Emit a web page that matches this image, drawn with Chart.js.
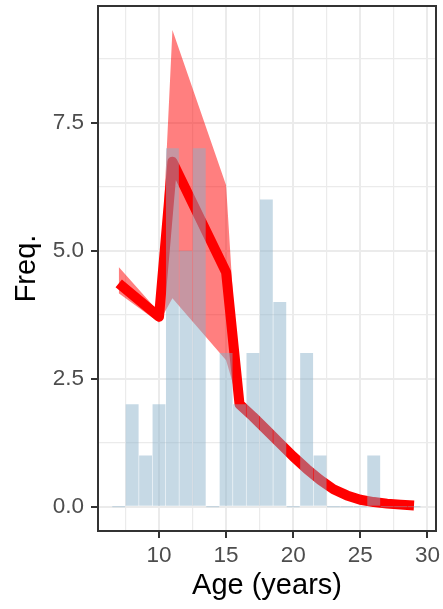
<!DOCTYPE html>
<html>
<head>
<meta charset="utf-8">
<script src="https://cdn.jsdelivr.net/npm/chart.js@4/dist/chart.umd.min.js"></script>
<style>
  html, body { margin: 0; padding: 0; background: #ffffff; }
  #wrap { width: 443px; height: 609px; }
</style>
</head>
<body>
<div id="wrap"><canvas id="chart" width="443" height="609"></canvas></div>
<script>
// Histogram of ages (1-year bins, centred on whole years)
const binAges   = [7, 8, 9, 10, 11, 12, 13, 14, 15, 16, 17, 18, 19, 20, 21, 22, 23, 24, 25, 26, 27, 28, 29];
const binCounts = [0, 2, 1, 2, 7, 5, 7, 0, 3, 2, 3, 6, 4, 0, 3, 1, 0, 0, 0, 1, 0, 0, 0];

// Fitted frequency curve
const fitAges = [7, 10, 11, 15, 16, 17, 18, 19, 20, 21, 22, 23, 24, 25, 26, 27, 28, 29];
const fitFreq = [4.36, 3.71, 6.74, 4.58, 2.0, 1.76, 1.50, 1.24, 0.98, 0.74, 0.525, 0.34, 0.22, 0.136, 0.09, 0.06, 0.04, 0.025];

// Confidence band around the fitted curve
const bandAges  = [7, 10, 11, 15, 16];
const bandUpper = [4.68, 3.8, 9.31, 6.28, 2.05];
const bandLower = [4.17, 3.6, 4.07, 2.86, 1.95];

// Axis ticks (major ones carry labels, minor ones only a grid line)
const xTicks = [7.5, 10, 12.5, 15, 17.5, 20, 22.5, 25, 27.5, 30];
const xMajor = [10, 15, 20, 25, 30];
const yTicks = [0, 1.25, 2.5, 3.75, 5, 6.25, 7.5, 8.75];
const yMajor = [0, 2.5, 5, 7.5];

const pts = (xs, ys) => xs.map((x, i) => ({ x: x, y: ys[i] }));
const isMajor = (list, v) => list.some(m => Math.abs(m - v) < 1e-6);
const tickVal = c => (c && c.tick) ? c.tick.value : NaN;

const FONT = "'Liberation Sans', Arial, Helvetica, sans-serif";

// Panel border drawn over the data, like a framed plot panel
const panelBorder = {
  id: 'panelBorder',
  afterDatasetsDraw(chart) {
    const { ctx, chartArea: a } = chart;
    ctx.save();
    ctx.strokeStyle = '#333333';
    ctx.lineWidth = 2;
    ctx.strokeRect(a.left, a.top, a.right - a.left, a.bottom - a.top);
    ctx.restore();
  }
};

new Chart(document.getElementById('chart'), {
  data: {
    datasets: [
      {
        type: 'bar',
        label: 'Count',
        data: pts(binAges, binCounts),
        backgroundColor: 'rgba(136,176,200,0.48)',
        borderWidth: 0,
        barPercentage: 0.96,
        categoryPercentage: 1,
        minBarLength: 1,
        order: 0
      },
      {
        type: 'line',
        label: 'Fit',
        data: pts(fitAges, fitFreq),
        borderColor: '#ff0000',
        borderWidth: 10,
        borderJoinStyle: 'round',
        borderCapStyle: 'butt',
        pointRadius: 0,
        tension: 0,
        fill: false,
        order: 1
      },
      {
        type: 'line',
        label: 'Upper',
        data: pts(bandAges, bandUpper),
        borderWidth: 0,
        borderColor: 'rgba(0,0,0,0)',
        backgroundColor: 'rgba(255,0,0,0.5)',
        pointRadius: 0,
        tension: 0,
        fill: 3,
        order: 2
      },
      {
        type: 'line',
        label: 'Lower',
        data: pts(bandAges, bandLower),
        borderWidth: 0,
        borderColor: 'rgba(0,0,0,0)',
        pointRadius: 0,
        tension: 0,
        fill: false,
        order: 3
      }
    ]
  },
  options: {
    responsive: false,
    devicePixelRatio: 1,
    animation: false,
    layout: { padding: { top: 6, right: 7, left: 0, bottom: 0 } },
    plugins: { legend: { display: false }, tooltip: { enabled: false } },
    scales: {
      x: {
        type: 'linear',
        min: 5.455,
        max: 30.64,
        offset: false,
        afterBuildTicks: s => { s.ticks = xTicks.map(v => ({ value: v })); },
        afterFit: s => { s.height = 78; s.paddingLeft = 0; s.paddingRight = 0; },
        border: { display: false },
        grid: {
          offset: false,
          color: '#EBEBEB',
          lineWidth: c => isMajor(xMajor, tickVal(c)) ? 2 : 1.2,
          tickColor: c => isMajor(xMajor, tickVal(c)) ? '#333333' : 'rgba(0,0,0,0)',
          tickWidth: 2,
          tickLength: 7
        },
        ticks: {
          autoSkip: false,
          maxRotation: 0,
          padding: 4,
          color: '#4D4D4D',
          font: { family: FONT, size: 22.5 },
          callback: v => isMajor(xMajor, v) ? String(v) : ''
        },
        title: {
          display: true,
          text: 'Age (years)',
          color: '#000000',
          font: { family: FONT, size: 29 },
          padding: { top: 0, bottom: 6 }
        }
      },
      y: {
        type: 'linear',
        min: -0.475,
        max: 9.78,
        afterBuildTicks: s => { s.ticks = yTicks.map(v => ({ value: v })); },
        afterFit: s => { s.width = 98; s.paddingTop = 0; s.paddingBottom = 0; },
        border: { display: false },
        grid: {
          color: '#EBEBEB',
          lineWidth: c => isMajor(yMajor, tickVal(c)) ? 2 : 1.2,
          tickColor: c => isMajor(yMajor, tickVal(c)) ? '#333333' : 'rgba(0,0,0,0)',
          tickWidth: 2,
          tickLength: 7
        },
        ticks: {
          autoSkip: false,
          padding: 7,
          color: '#4D4D4D',
          font: { family: FONT, size: 22.5 },
          callback: v => isMajor(yMajor, v) ? v.toFixed(1) : ''
        },
        title: {
          display: true,
          text: 'Freq.',
          color: '#000000',
          font: { family: FONT, size: 29 },
          padding: { top: 10, bottom: 0 }
        }
      }
    }
  },
  plugins: [panelBorder]
});
</script>
</body>
</html>
